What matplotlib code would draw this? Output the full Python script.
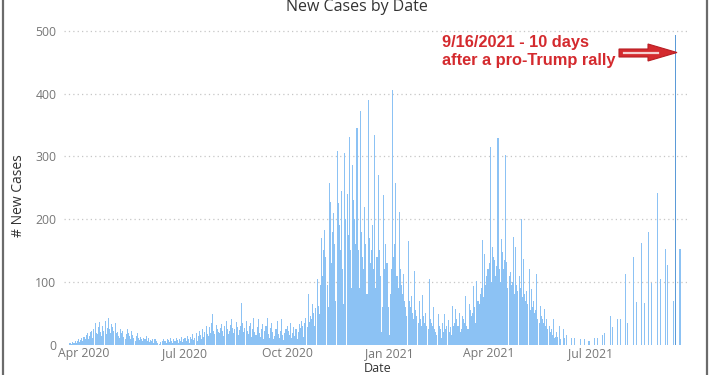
import matplotlib
matplotlib.use("Agg")
import matplotlib.pyplot as plt
import matplotlib.dates as mdates
from matplotlib.patches import Polygon
import numpy as np
import pandas as pd

# daily new cases, one list per month (first list starts 2020-03-15)
mar20 = [0, 0, 0, 0, 2, 3, 1, 4, 2, 5, 3, 6, 8, 4, 7, 10, 6]
apr20 = [12, 9, 15, 18, 8, 14, 20, 22, 11, 25, 34, 18, 16, 28, 36, 20, 14, 30, 22, 38,
         17, 26, 42, 24, 19, 33, 28, 21, 35, 18]
may20 = [20, 14, 10, 24, 18, 22, 12, 8, 16, 25, 19, 13, 9, 22, 15, 11, 6, 14, 18, 10,
         7, 12, 9, 5, 11, 8, 13, 6, 10, 4, 7]
jun20 = [6, 9, 3, 8, 5, 2, 0, 1, 4, 0, 6, 8, 5, 3, 9, 7, 4, 10, 6, 2,
         8, 5, 11, 7, 3, 9, 6, 12, 4, 8]
jul20 = [10, 5, 14, 8, 3, 12, 9, 16, 7, 11, 18, 6, 13, 22, 15, 9, 25, 12, 20, 30,
         17, 14, 28, 19, 35, 48, 22, 16, 31, 24, 20]
aug20 = [18, 26, 33, 21, 14, 29, 38, 24, 17, 22, 31, 40, 27, 19, 25, 36, 28, 15, 23, 30,
         66, 34, 20, 26, 38, 22, 17, 29, 35, 12, 24]
sep20 = [42, 20, 15, 28, 40, 18, 12, 25, 33, 9, 22, 30, 42, 16, 11, 26, 35, 20, 8, 14,
         24, 38, 17, 10, 21, 41, 15, 7, 18, 25]
oct20 = [30, 22, 15, 35, 10, 18, 28, 14, 25, 8, 20, 32, 26, 38, 30, 12, 35, 42, 28, 80,
         36, 45, 40, 65, 50, 30, 58, 105, 62, 48, 95]
nov20 = [170, 110, 150, 182, 140, 95, 60, 257, 227, 130, 180, 210, 160, 70, 308, 225, 190, 150, 245, 120,
         65, 306, 200, 240, 175, 331, 150, 90, 286, 230]
dec20 = [200, 160, 346, 150, 90, 373, 180, 140, 120, 219, 160, 80, 390, 170, 130, 150, 190, 120, 334, 90,
         140, 270, 150, 110, 20, 60, 238, 120, 160, 130, 60]
jan21 = [15, 80, 120, 406, 140, 160, 257, 110, 90, 211, 120, 95, 80, 112, 70, 60, 45, 165, 70, 60,
         78, 50, 40, 118, 55, 45, 35, 70, 40, 30, 79]
feb21 = [45, 35, 50, 30, 25, 104, 40, 35, 30, 60, 25, 20, 15, 48, 30, 25, 10, 35, 20, 49,
         25, 30, 39, 20, 28, 15, 61, 30]
mar21 = [35, 56, 40, 30, 50, 20, 25, 45, 40, 35, 78, 30, 25, 64, 55, 45, 50, 94, 60, 35,
         102, 70, 65, 80, 90, 166, 75, 144, 95, 110, 120]
apr21 = [130, 315, 100, 155, 140, 134, 110, 125, 330, 120, 100, 168, 147, 120, 135, 302, 131, 90, 110, 115,
         95, 100, 171, 80, 155, 95, 85, 110, 90, 200]
may21 = [75, 136, 80, 70, 85, 65, 121, 55, 88, 60, 70, 50, 55, 112, 40, 35, 61, 45, 40, 35,
         56, 30, 40, 25, 30, 20, 25, 15, 40, 10, 12]
jun21 = [20, 12, 29, 8, 0, 0, 24, 10, 0, 15, 0, 0, 0, 10, 0, 0, 10, 0, 0, 0,
         0, 8, 0, 0, 0, 8, 0, 0, 0, 6]
jul21 = [0, 0, 0, 0, 10, 0, 0, 10, 0, 0, 0, 15, 0, 18, 0, 0, 0, 0, 45, 0,
         28, 0, 0, 0, 0, 40, 0, 40, 0, 0, 0]
aug21 = [0, 112, 0, 35, 0, 0, 0, 0, 140, 0, 0, 67, 0, 0, 0, 162, 0, 0, 66, 0,
         0, 0, 179, 0, 98, 0, 0, 0, 0, 0, 242]
sep21 = [0, 104, 0, 0, 0, 0, 153, 0, 127, 0, 0, 0, 0, 70, 0, 493, 0, 0, 0, 153]

months = [("2020-03-15", mar20), ("2020-04-01", apr20), ("2020-05-01", may20),
          ("2020-06-01", jun20), ("2020-07-01", jul20), ("2020-08-01", aug20),
          ("2020-09-01", sep20), ("2020-10-01", oct20), ("2020-11-01", nov20),
          ("2020-12-01", dec20), ("2021-01-01", jan21), ("2021-02-01", feb21),
          ("2021-03-01", mar21), ("2021-04-01", apr21), ("2021-05-01", may21),
          ("2021-06-01", jun21), ("2021-07-01", jul21), ("2021-08-01", aug21),
          ("2021-09-01", sep21)]

dates = []
cases = []
for start, vals in months:
    dates.extend(pd.date_range(start, periods=len(vals), freq="D"))
    cases.extend(vals)
dates = pd.DatetimeIndex(dates)
cases = np.array(cases)

highlight = pd.Timestamp("2021-09-16")
tick_dates = pd.to_datetime(["2020-04-01", "2020-07-01", "2020-10-01",
                             "2021-01-01", "2021-04-01", "2021-07-01"])

W, H = 710, 375
fig = plt.figure(figsize=(7.1, 3.75), dpi=100)
ax = fig.add_axes([64 / W, 1 - 344.5 / H, (690 - 64) / W, (344.5 - 24.7) / H])

colors = np.where(dates == highlight, "#5b9bd8", "#8cc2f4")
ax.bar(dates, cases, width=0.95, color=colors, linewidth=0)

ax.set_ylim(0, 510)
ax.set_xlim(pd.Timestamp("2020-03-14"), pd.Timestamp("2021-09-29"))
for y in [100, 200, 300, 400, 500]:
    ax.axhline(y, color="#c6c6c6", lw=0.9, ls=(0, (1, 2.5)), zorder=0)

ax.set_yticks([0, 100, 200, 300, 400, 500])
ax.set_xticks(tick_dates)
ax.xaxis.set_major_formatter(mdates.DateFormatter("%b %Y"))
ax.tick_params(axis="both", length=0, labelsize=8.8, labelcolor="#777777")
ax.tick_params(axis="y", pad=5.5)
ax.tick_params(axis="x", pad=1.5)
for lbl in ax.get_xticklabels() + ax.get_yticklabels():
    lbl.set_family("Open Sans")
for s in ax.spines.values():
    s.set_visible(False)

fig.text(357 / W, 1 - 7 / H, "New Cases by Date", ha="center", va="center",
         fontsize=11.5, color="#333333", family="Open Sans")
fig.text(19 / W, 1 - 196 / H, "# New Cases", rotation=90, ha="center", va="center",
         fontsize=10, color="#333333", family="Open Sans")
fig.text(378 / W, 1 - 362 / H, "Date", ha="center", va="top",
         fontsize=9, color="#333333", family="Open Sans")

fig.text(442 / W, 1 - 42 / H, "9/16/2021 - 10 days", ha="left", va="center",
         fontsize=11.8, fontweight="bold", color="#d42a2e", family="Liberation Sans")
fig.text(442 / W, 1 - 60 / H, "after a pro-Trump rally", ha="left", va="center",
         fontsize=11.8, fontweight="bold", color="#d42a2e", family="Liberation Sans")

# red block arrow pointing at the spike
arrow_px = [(619, 49), (648, 49), (648, 44), (677, 52.5), (648, 61), (648, 57), (619, 57)]
fig.patches.append(Polygon([(x / W, 1 - y / H) for x, y in arrow_px], closed=True,
                           transform=fig.transFigure, facecolor="#d42a2e",
                           edgecolor="#b81f24", lw=0.8))
fig.lines.append(plt.Line2D([624 / W, 658 / W], [1 - 53 / H, 1 - 53 / H],
                            transform=fig.transFigure, color="#f4d0d0", lw=1.6))

# frame lines of the screenshot
fig.lines.append(plt.Line2D([2.5 / W, 2.5 / W], [0, 1], transform=fig.transFigure,
                            color="#6b6b6b", lw=1.6))
fig.lines.append(plt.Line2D([707 / W, 707 / W], [0, 1], transform=fig.transFigure,
                            color="#6b6b6b", lw=1.6))

fig.savefig("out.png", dpi=100, facecolor="white")
